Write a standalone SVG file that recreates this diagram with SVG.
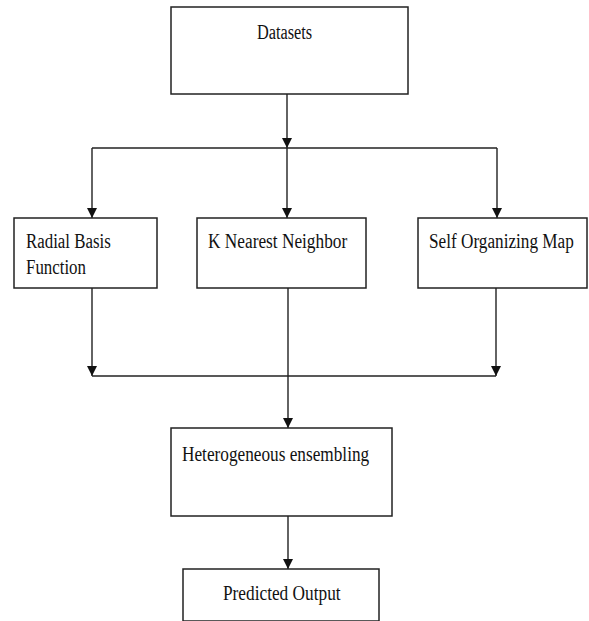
<svg xmlns="http://www.w3.org/2000/svg" width="589" height="621" viewBox="0 0 589 621">
<style>
.box{fill:#fff;stroke:#222;stroke-width:1.5}
.ln{fill:none;stroke:#222;stroke-width:1.4}
.t{font-family:"Liberation Serif","Times New Roman",serif;font-size:20px;fill:#111}
</style>
<defs>
<marker id="ah" viewBox="0 0 10 12" refX="10" refY="6" markerWidth="10" markerHeight="12" markerUnits="userSpaceOnUse" orient="auto">
<path d="M0,1 L10,6 L0,11 Z" fill="#111"/>
</marker>
</defs>
<rect width="589" height="621" fill="#fff"/>
<g id="connectors">
<line class="ln" x1="287" y1="94" x2="287" y2="148" marker-end="url(#ah)"/>
<line class="ln" x1="92" y1="148" x2="497" y2="148"/>
<line class="ln" x1="92" y1="148" x2="92" y2="218" marker-end="url(#ah)"/>
<line class="ln" x1="287" y1="148" x2="287" y2="218" marker-end="url(#ah)"/>
<line class="ln" x1="497" y1="148" x2="497" y2="218" marker-end="url(#ah)"/>
<line class="ln" x1="92" y1="288" x2="92" y2="376" marker-end="url(#ah)"/>
<line class="ln" x1="496" y1="288" x2="496" y2="376" marker-end="url(#ah)"/>
<line class="ln" x1="92" y1="376" x2="496" y2="376"/>
<line class="ln" x1="288" y1="288" x2="288" y2="428" marker-end="url(#ah)"/>
<line class="ln" x1="288" y1="516" x2="288" y2="569" marker-end="url(#ah)"/>
</g>
<g id="datasets">
<rect class="box" x="171" y="7" width="237" height="87"/>
<text class="t" transform="translate(257,39) scale(0.8,1)" textLength="69" lengthAdjust="spacingAndGlyphs">Datasets</text>
</g>
<g id="rbf">
<rect class="box" x="14" y="218" width="143" height="70"/>
<text class="t" transform="translate(26,248) scale(0.8,1)" textLength="106" lengthAdjust="spacingAndGlyphs">Radial Basis</text>
<text class="t" transform="translate(26,274) scale(0.8,1)" textLength="75" lengthAdjust="spacingAndGlyphs">Function</text>
</g>
<g id="knn">
<rect class="box" x="197" y="218" width="169" height="70"/>
<text class="t" transform="translate(208,248) scale(0.8,1)" textLength="174" lengthAdjust="spacingAndGlyphs">K Nearest Neighbor</text>
</g>
<g id="som">
<rect class="box" x="418" y="218" width="169" height="70"/>
<text class="t" transform="translate(429,248) scale(0.8,1)" textLength="181" lengthAdjust="spacingAndGlyphs">Self Organizing Map</text>
</g>
<g id="ensemble">
<rect class="box" x="171" y="428" width="221" height="88"/>
<text class="t" transform="translate(182,461) scale(0.8,1)" textLength="234" lengthAdjust="spacingAndGlyphs">Heterogeneous ensembling</text>
</g>
<g id="output">
<rect class="box" x="183" y="569" width="196" height="52"/>
<text class="t" transform="translate(223,600) scale(0.8,1)" textLength="147" lengthAdjust="spacingAndGlyphs">Predicted Output</text>
</g>
</svg>
